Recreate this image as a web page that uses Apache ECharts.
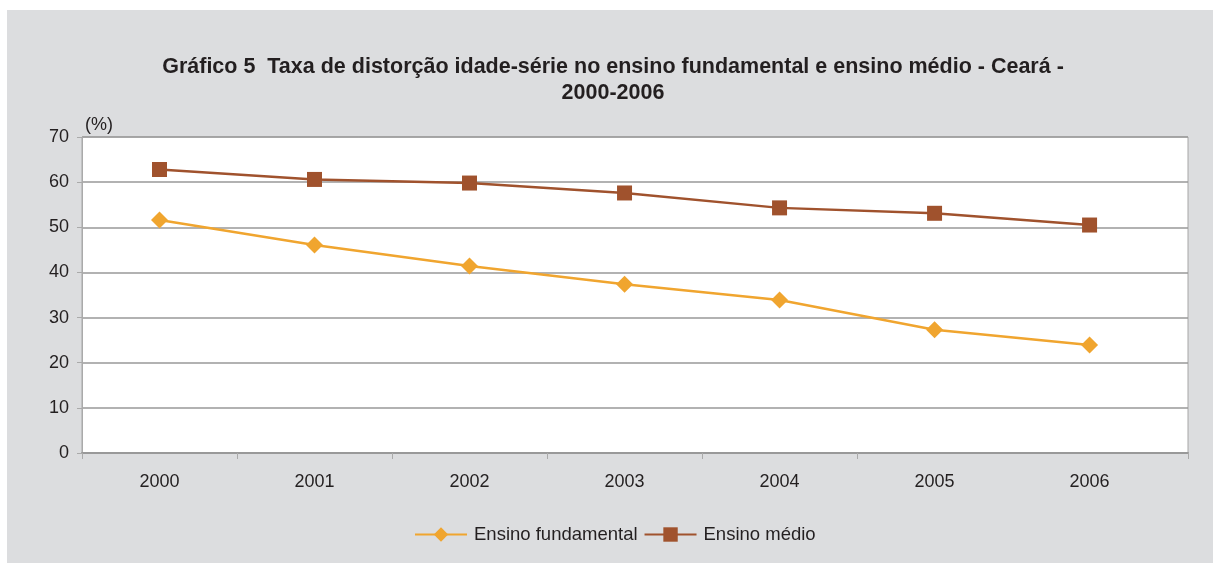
<!DOCTYPE html>
<html>
<head>
<meta charset="utf-8">
<script src="https://cdn.jsdelivr.net/npm/echarts@6/dist/echarts.min.js"></script>
<style>
  html, body { margin: 0; padding: 0; background: #ffffff; }
  #chart { position: absolute; left: 7px; top: 10px; width: 1206px; height: 553px; background: #dcdddf; }
</style>
</head>
<body>
<div id="chart"></div>
<script>
// Anos
const years = ['2000', '2001', '2002', '2003', '2004', '2005', '2006'];
// Taxa de distorção idade-série (%)
const fundamental = [51.6, 46.1, 41.4, 37.4, 33.9, 27.3, 23.9];
const medio = [62.8, 60.6, 59.8, 57.6, 54.3, 53.1, 50.5];
const yTicks = [0, 10, 20, 30, 40, 50, 60, 70];

const textColor = '#231f20';
const font = 'Liberation Sans, Arial, sans-serif';

// The x axis is an index scale: each year sits at its index, bands are 1 wide,
// and the plot runs a little past the last band on the right.
const xMin = -0.5;
const xMax = 6.635;
const yearIdx = years.map((y, i) => i);
const bandEdges = years.slice(0, -1).map((y, i) => i - 0.5).concat([xMax]);

const chart = echarts.init(document.getElementById('chart'), null, { renderer: 'canvas' });
chart.setOption({
  backgroundColor: '#dcdddf',
  animation: false,
  title: {
    text: 'Gráfico 5  Taxa de distorção idade-série no ensino fundamental e ensino médio - Ceará -\n2000-2006',
    left: 601,
    top: 39,
    textAlign: 'center',
    textStyle: {
      fontFamily: font,
      fontSize: 21.5,
      fontWeight: 'bold',
      color: textColor,
      lineHeight: 26,
      align: 'center'
    }
  },
  grid: {
    left: 75,
    right: 25,
    top: 127,
    bottom: 110,
    show: true,
    backgroundColor: '#ffffff',
    borderColor: '#a6a6a6',
    borderWidth: 1
  },
  legend: {
    top: 510,
    left: 402,
    itemWidth: 52,
    itemHeight: 18,
    itemGap: 6,
    textStyle: { fontFamily: font, fontSize: 18.5, color: textColor, padding: [0, 0, 0, 2] },
    data: ['Ensino fundamental', 'Ensino médio']
  },
  xAxis: {
    type: 'value',
    min: xMin,
    max: xMax,
    axisLine: { show: true, onZero: false, lineStyle: { color: '#999999', width: 2 } },
    axisTick: { show: true, length: 6, customValues: bandEdges, lineStyle: { color: '#aaaaaa', width: 1 } },
    axisLabel: {
      fontFamily: font, fontSize: 18, color: textColor, margin: 20,
      customValues: yearIdx,
      formatter: (v) => years[Math.round(v)]
    },
    splitLine: { show: false }
  },
  yAxis: {
    type: 'value',
    min: yTicks[0],
    max: yTicks[yTicks.length - 1],
    interval: 10,
    name: '(%)',
    nameLocation: 'end',
    nameGap: 3,
    nameTextStyle: { fontFamily: font, fontSize: 18, color: textColor, align: 'left', padding: [0, 0, 0, 3] },
    axisLine: { show: true, onZero: false, lineStyle: { color: '#aaaaaa', width: 1 } },
    axisTick: { show: true, length: 5, lineStyle: { color: '#aaaaaa' } },
    axisLabel: { fontFamily: font, fontSize: 18, color: textColor, margin: 13 },
    splitLine: { lineStyle: { color: '#999999', width: 1.5 } }
  },
  series: [
    {
      name: 'Ensino fundamental',
      type: 'line',
      data: fundamental.map((v, i) => [yearIdx[i], v]),
      symbol: 'diamond',
      symbolSize: 17,
      color: '#f0a52f',
      lineStyle: { width: 2.5, color: '#f0a52f' },
      itemStyle: { color: '#f0a52f' }
    },
    {
      name: 'Ensino médio',
      type: 'line',
      data: medio.map((v, i) => [yearIdx[i], v]),
      symbol: 'rect',
      symbolSize: 15,
      color: '#a0522d',
      lineStyle: { width: 2.5, color: '#a0522d' },
      itemStyle: { color: '#a0522d' }
    }
  ]
});
</script>
</body>
</html>
